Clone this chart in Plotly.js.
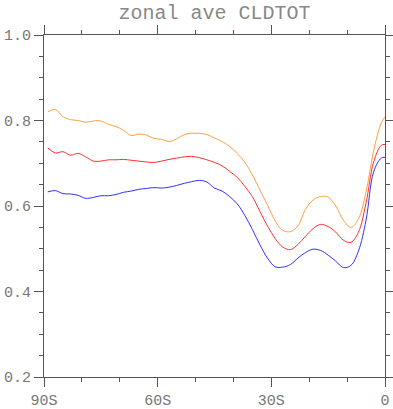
<!DOCTYPE html>
<html>
<head>
<meta charset="utf-8">
<script src="https://cdn.plot.ly/plotly-3.0.1.min.js"></script>
<style>html,body{margin:0;padding:0;background:#fff;}#chart{width:393px;height:409px;}</style>
</head>
<body>
<div id="chart"></div>
<script>
const lat = [-89,-87,-85,-83,-81,-79,-77,-75,-73,-71,-69,-67,-65,-63,-61,-59,-57,-55,-53,-51,-49,-47,-45,-43,-41,-39,-37,-35,-33,-31,-29,-27,-25,-23,-21,-19,-17,-15,-13,-11,-9,-7,-5,-3,-1,0];
const orangeVals = [0.820,0.826,0.809,0.802,0.800,0.796,0.799,0.799,0.791,0.786,0.777,0.765,0.768,0.766,0.758,0.756,0.751,0.757,0.767,0.770,0.770,0.767,0.759,0.751,0.739,0.723,0.702,0.673,0.637,0.602,0.566,0.543,0.540,0.553,0.592,0.614,0.622,0.621,0.600,0.567,0.550,0.570,0.633,0.729,0.794,0.809];
const redVals = [0.736,0.724,0.727,0.719,0.723,0.715,0.705,0.705,0.708,0.708,0.709,0.707,0.705,0.703,0.702,0.705,0.709,0.712,0.715,0.716,0.713,0.708,0.702,0.694,0.681,0.667,0.646,0.622,0.587,0.553,0.524,0.504,0.498,0.510,0.529,0.547,0.557,0.552,0.539,0.520,0.515,0.539,0.607,0.703,0.742,0.744];
const blueVals = [0.633,0.636,0.629,0.628,0.625,0.618,0.620,0.624,0.624,0.627,0.632,0.635,0.639,0.641,0.643,0.642,0.644,0.648,0.653,0.657,0.660,0.656,0.642,0.635,0.622,0.605,0.578,0.545,0.509,0.478,0.458,0.457,0.463,0.478,0.491,0.499,0.496,0.485,0.471,0.456,0.461,0.495,0.567,0.680,0.712,0.714];
const xTickVals = [-90,-60,-30,0];
const xTickText = ['90S','60S','30S','0'];
const titleText = 'zonal ave CLDTOT';

const mk = (y, c) => ({x: lat, y: y, type: 'scatter', mode: 'lines',
  line: {color: c, width: 1, shape: 'spline', smoothing: 1}, hoverinfo: 'skip'});
const data = [mk(orangeVals, '#ffa040'), mk(redVals, '#ff3030'), mk(blueVals, '#3030ff')];

const font = {family: '"Liberation Mono", "Courier New", monospace', size: 15, color: '#777'};
const axisCommon = {
  showline: true, linecolor: '#555', linewidth: 1, mirror: 'ticks',
  ticks: 'outside', ticklen: 9, tickcolor: '#555', tickwidth: 1,
  showgrid: false, zeroline: false, tickfont: font
};
const layout = {
  width: 393, height: 409,
  margin: {l: 44, r: 8, t: 35, b: 32},
  paper_bgcolor: '#fff', plot_bgcolor: '#fff',
  showlegend: false,
  title: {text: titleText, font: {family: font.family, size: 20, color: '#888'},
    x: 0.5, xref: 'paper', y: 1 - 12/409, yref: 'container', yanchor: 'middle'},
  xaxis: Object.assign({}, axisCommon, {
    range: [-90, 0], tickmode: 'array', tickvals: xTickVals, ticktext: xTickText,
    minor: {dtick: 10, tick0: -90, ticks: 'outside', ticklen: 4, tickcolor: '#555', tickwidth: 1, showgrid: false}
  }),
  yaxis: Object.assign({}, axisCommon, {
    range: [0.2, 1.0], tick0: 0.2, dtick: 0.2, tickformat: '.1f',
    minor: {dtick: 0.05, tick0: 0.2, ticks: 'outside', ticklen: 4, tickcolor: '#555', tickwidth: 1, showgrid: false}
  })
};
Plotly.newPlot('chart', data, layout, {staticPlot: true, displayModeBar: false});
</script>
</body>
</html>
